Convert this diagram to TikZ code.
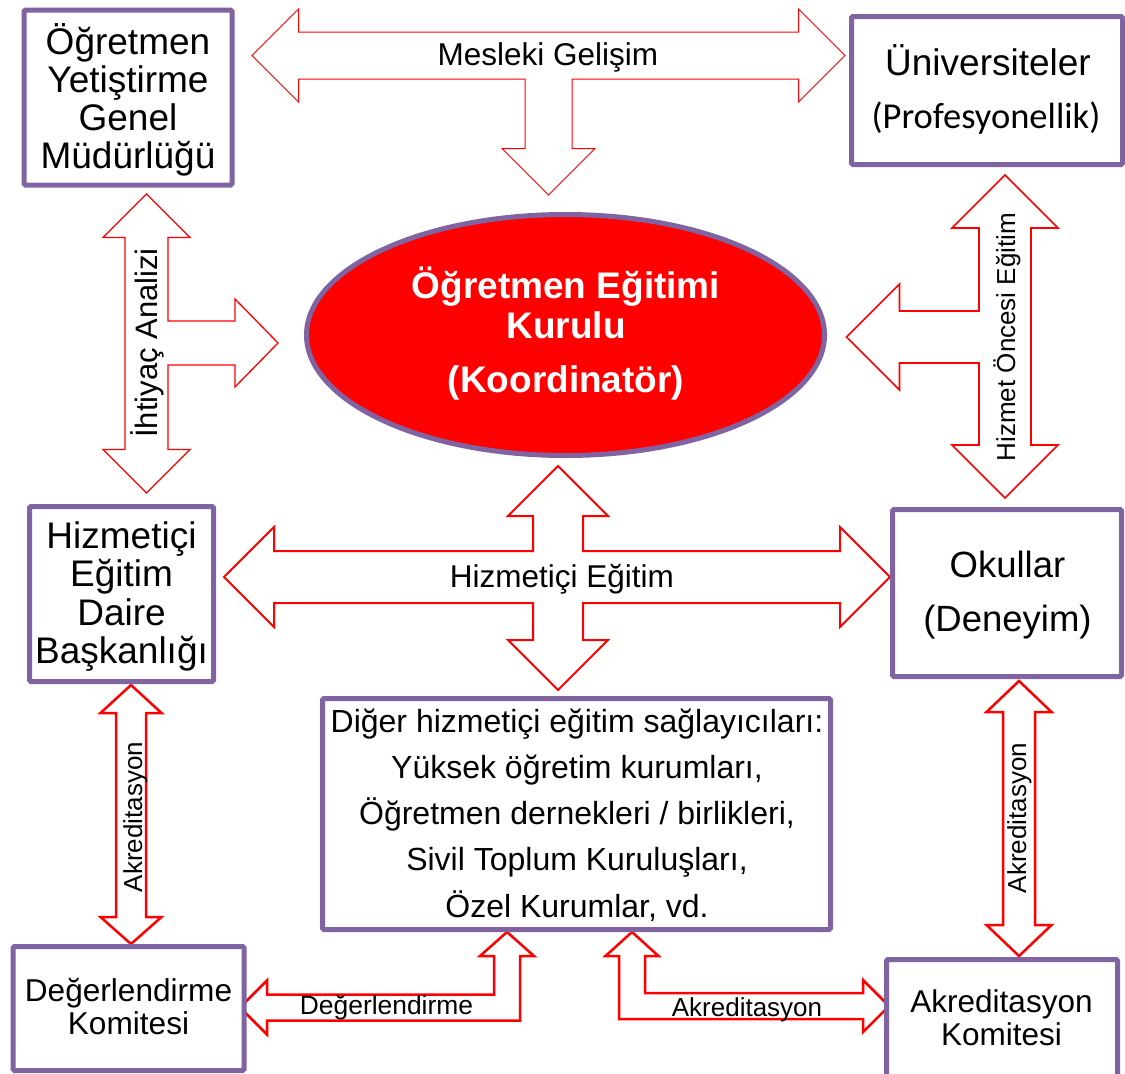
\documentclass[tikz,border=0pt]{standalone}
\usepackage{fontspec}
\setmainfont{Liberation Sans}
\newfontfamily\calibrifont{Carlito}
\usetikzlibrary{shapes.geometric}
\definecolor{boxpurple}{RGB}{128,100,162}
\newcommand\mlines[2]{\vtop{\baselineskip=#1\lineskiplimit=-1000pt\lineskip=0pt\halign{\hfil##\hfil\cr#2\crcr}}}
\tikzset{
  box/.style={draw=boxpurple, line width=5pt, fill=white, rounded corners=1.5pt, inner sep=0pt},
  barrow/.style={draw=red, fill=white, line join=miter},
  lbl/.style={inner sep=0pt, anchor=base},
}
\begin{document}
\begin{tikzpicture}[x=1pt,y=-1pt]
\useasboundingbox (0,0) rectangle (1125,1074);
\clip (0,0) rectangle (1125,1074);

% block arrows
\draw[barrow, line width=1pt] (252,55.5) -- (298.5,9) -- (298.5,32) -- (798.5,32) -- (798.5,9) -- (845,55.5)
  -- (798.5,102) -- (798.5,79) -- (572,79) -- (572,148.5) -- (595,148.5) -- (548.5,195) -- (502,148.5)
  -- (525,148.5) -- (525,79) -- (298.5,79) -- (298.5,102) -- cycle;
\draw[barrow, line width=1.3pt] (146.5,194) -- (190,237.5) -- (168,237.5) -- (168,321) -- (235,321) -- (235,299)
  -- (278,343) -- (235,387) -- (235,365) -- (168,365) -- (168,449.5) -- (190,449.5) -- (146.5,493)
  -- (103,449.5) -- (125,449.5) -- (125,237.5) -- (103,237.5) -- cycle;
\draw[barrow, line width=1.7pt] (1005,175) -- (1058,228) -- (1031,228) -- (1031,445) -- (1058,445) -- (1005,498)
  -- (952,445) -- (979,445) -- (979,363) -- (899.5,363) -- (899.5,390) -- (846.5,337) -- (899.5,284)
  -- (899.5,311) -- (979,311) -- (979,228) -- (952,228) -- cycle;
\draw[barrow, line width=2pt] (558,466) -- (608,516) -- (583,516) -- (583,551) -- (840,551) -- (840,527)
  -- (890,577) -- (840,627) -- (840,603) -- (583,603) -- (583,640) -- (608,640) -- (558,690)
  -- (508,640) -- (533,640) -- (533,603) -- (274,603) -- (274,627) -- (224,577) -- (274,527)
  -- (274,551) -- (533,551) -- (533,516) -- (508,516) -- cycle;
\draw[barrow, line width=2.5pt] (507,932) -- (534,956) -- (520,956) -- (520,1020.5) -- (267,1020.5)
  -- (267,1034.5) -- (240,1007.5) -- (267,980.5) -- (267,994.5) -- (494,994.5) -- (494,956) -- (480,956) -- cycle;
\draw[barrow, line width=2.5pt] (632,932) -- (658.5,956) -- (645,956) -- (645,993) -- (863,993) -- (863,980)
  -- (889,1006) -- (863,1032) -- (863,1019) -- (619,1019) -- (619,956) -- (605.5,956) -- cycle;
\draw[barrow, line width=2.5pt] (131,685) -- (161.5,713) -- (146,713) -- (146,917) -- (161.5,917) -- (131,944)
  -- (100.5,917) -- (116,917) -- (116,713) -- (100.5,713) -- cycle;
\draw[barrow, line width=2.5pt] (1019,681) -- (1051.5,712) -- (1035,712) -- (1035,925) -- (1051.5,925) -- (1019,956)
  -- (986.5,925) -- (1003,925) -- (1003,712) -- (986.5,712) -- cycle;

% boxes
\node[box, minimum width=208pt, minimum height=175pt] (b1) at (128,97.5) {};
\node[box, minimum width=271pt, minimum height=148pt] (b2) at (987,90.5) {};
\node[box, minimum width=184pt, minimum height=175pt] (b3) at (121.5,594) {};
\node[box, minimum width=229pt, minimum height=167pt] (b4) at (1007,593) {};
\node[box, minimum width=508pt, minimum height=231pt] (b5) at (576.5,814) {};
\node[box, minimum width=231pt, minimum height=124pt] (b6) at (128.5,1008.5) {};
\node[box, minimum width=231pt, minimum height=130.5pt] (b7) at (1002,1024.75) {};
\node[ellipse, draw=boxpurple, line width=5pt, fill=red, inner sep=0pt,
      minimum width=518pt, minimum height=241pt] (ell) at (565.5,335) {};

% box texts
\node[lbl, font=\fontsize{37}{38}\selectfont] (t1) at (128,54)
  {\mlines{38pt}{Öğretmen\cr Yetiştirme\cr Genel\cr Müdürlüğü}};
\node[lbl, font=\fontsize{37}{40}\selectfont] (t2a) at (988,75) {Üniversiteler};
\node[lbl, font=\calibrifont\fontsize{36.5}{40}\selectfont] (t2b) at (986,128) {(Profesyonellik)};
\node[lbl, font=\bfseries\fontsize{37}{40}\selectfont, text=white] (te) at (566,298)
  {\mlines{40pt}{Öğretmen Eğitimi\cr Kurulu\cr\noalign{\vskip14pt}(Koordinatör)}};
\node[lbl, font=\fontsize{37}{38}\selectfont] (t3) at (121.5,548)
  {\mlines{38.5pt}{Hizmetiçi\cr Eğitim\cr Daire\cr Başkanlığı}};
\node[lbl, font=\fontsize{36.5}{40}\selectfont] (t4) at (1007.5,577)
  {\mlines{54pt}{Okullar\cr (Deneyim)}};
\node[lbl, font=\fontsize{32}{40}\selectfont] (t5) at (577,732)
  {\mlines{46.3pt}{Diğer hizmetiçi eğitim sağlayıcıları:\cr Yüksek öğretim kurumları,\cr Öğretmen dernekleri / birlikleri,\cr Sivil Toplum Kuruluşları,\cr Özel Kurumlar, vd.}};
\node[lbl, font=\fontsize{31.6}{34}\selectfont] (t6) at (128.5,1001.7)
  {\mlines{32.5pt}{Değerlendirme\cr Komitesi}};
\node[lbl, font=\fontsize{31.5}{34}\selectfont] (t7) at (1001.5,1012)
  {\mlines{33pt}{Akreditasyon\cr Komitesi}};

% arrow labels
\node[lbl, font=\fontsize{31.5}{34}\selectfont] (lm) at (548,65) {Mesleki Gelişim};
\node[lbl, font=\fontsize{31.5}{34}\selectfont] (lh) at (562,587) {Hizmetiçi Eğitim};
\node[lbl, rotate=90, font=\fontsize{31}{34}\selectfont] (li) at (157,343) {İhtiyaç Analizi};
\node[lbl, rotate=90, font=\fontsize{26}{30}\selectfont] (lo) at (1015,337) {Hizmet Öncesi Eğitim};
\node[lbl, rotate=90, font=\fontsize{26}{30}\selectfont] (la1) at (142,817) {Akreditasyon};
\node[lbl, rotate=90, font=\fontsize{26}{30}\selectfont] (la2) at (1026,818) {Akreditasyon};
\node[lbl, font=\fontsize{26.4}{30}\selectfont] (ld) at (386.5,1014) {Değerlendirme};
\node[lbl, font=\fontsize{26}{30}\selectfont] (la3) at (747,1016) {Akreditasyon};
\end{tikzpicture}
\end{document}
